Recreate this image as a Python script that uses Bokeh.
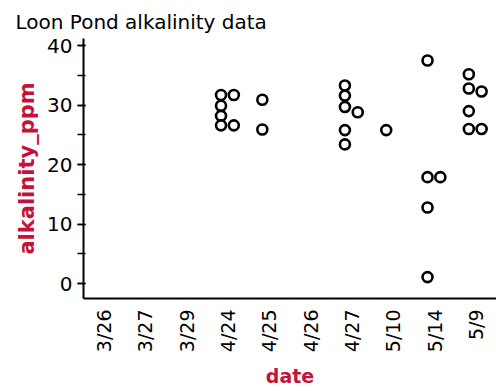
from bokeh.plotting import figure
from bokeh.models import FactorRange, Range1d, SingleIntervalTicker, ColumnDataSource
from bokeh.transform import dodge
from bokeh.embed import file_html
from bokeh.resources import INLINE
import math

# ---- data ----
categories = ["3/26", "3/27", "3/29", "4/24", "4/25", "4/26", "4/27", "5/10", "5/14", "5/9"]
dates = ["4/24", "4/24", "4/24", "4/24", "4/24", "4/24",
         "4/25", "4/25",
         "4/27", "4/27", "4/27", "4/27", "4/27", "4/27",
         "5/10",
         "5/14", "5/14", "5/14", "5/14", "5/14",
         "5/9", "5/9", "5/9", "5/9", "5/9", "5/9"]
alkalinity_ppm = [31.7, 31.7, 29.9, 28.2, 26.6, 26.6,
                  30.9, 25.9,
                  33.3, 31.6, 29.7, 28.8, 25.8, 23.4,
                  25.8,
                  37.5, 17.9, 17.9, 12.8, 1.1,
                  35.2, 32.8, 32.3, 29.0, 26.0, 26.0]
stack_slot = [0, 1, 0, 0, 0, 1,
              0, 0,
              0, 0, 0, 1, 0, 0,
              0,
              0, 0, 1, 0, 0,
              0, 0, 1, 0, 0, 1]
y_ticks = [0, 10, 20, 30, 40]

RED = "#c4123a"
FONT = "DejaVu Sans"

p = figure(width=496, height=391, output_backend="svg", toolbar_location=None,
           x_range=FactorRange(factors=categories),
           y_range=Range1d(-2.5, 41.2),
           title="Loon Pond alkalinity data")
p.min_border_left = 83
p.min_border_right = 0
p.min_border_top = 38
p.min_border_bottom = 93
p.outline_line_color = None
p.xgrid.visible = False
p.ygrid.visible = False
p.background_fill_color = "white"
p.border_fill_color = "white"

p.title.text_font = FONT
p.title.text_font_size = "20px"
p.title.text_font_style = "normal"
p.title.align = "left"
p.title.offset = -68
p.title.text_color = "black"

for slot, off in [(0, -0.17), (1, 0.14)]:
    idx = [i for i, s in enumerate(stack_slot) if s == slot]
    src = ColumnDataSource(dict(date=[dates[i] for i in idx],
                                val=[alkalinity_ppm[i] for i in idx]))
    p.scatter(x=dodge("date", off, range=p.x_range), y="val", source=src,
              marker="circle", size=10, fill_color="white",
              line_color="black", line_width=2.6)

# y axis
ya = p.yaxis[0]
ya.ticker = SingleIntervalTicker(interval=10, num_minor_ticks=2)
ya.axis_label = "alkalinity_ppm"
ya.axis_label_text_font = FONT
ya.axis_label_text_font_style = "bold"
ya.axis_label_text_font_size = "21px"
ya.axis_label_text_color = RED
ya.axis_label_standoff = 5
ya.major_label_text_font = FONT
ya.major_label_text_font_size = "20px"
ya.major_label_text_color = "black"
ya.major_label_standoff = 5
ya.axis_line_width = 2
ya.axis_line_color = "black"
ya.major_tick_out = 6
ya.major_tick_in = 2
ya.minor_tick_out = 6
ya.minor_tick_in = 2
ya.major_tick_line_width = 1.5
ya.minor_tick_line_width = 1.5
ya.major_tick_line_color = "black"
ya.minor_tick_line_color = "black"

# x axis
xa = p.xaxis[0]
xa.axis_label = "date"
xa.axis_label_text_font = FONT
xa.axis_label_text_font_style = "bold"
xa.axis_label_text_font_size = "19px"
xa.axis_label_text_color = RED
xa.axis_label_standoff = 10
xa.major_label_text_font = FONT
xa.major_label_text_font_size = "19px"
xa.major_label_text_color = "black"
xa.major_label_orientation = math.pi / 2
xa.major_label_standoff = 11
xa.axis_line_width = 2
xa.axis_line_color = "black"
xa.major_tick_out = 0
xa.major_tick_in = 0
xa.minor_tick_out = 0
xa.group_text_font_size = "0px"

open("out.html", "w").write(file_html(p, INLINE))
